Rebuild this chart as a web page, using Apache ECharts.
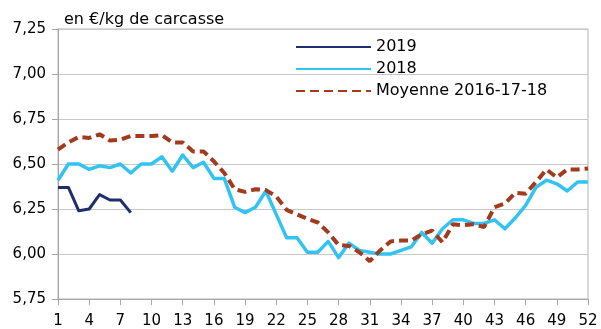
<!DOCTYPE html>
<html>
<head>
<meta charset="utf-8">
<script src="https://cdn.jsdelivr.net/npm/echarts@6/dist/echarts.min.js"></script>
<style>
  html, body { margin: 0; padding: 0; background: #fff; }
  #chart { width: 601px; height: 329px; }
</style>
</head>
<body>
<div id="chart"></div>
<script>
// Semaines de l'année
const weeks = ['1','2','3','4','5','6','7','8','9','10','11','12','13','14','15','16','17','18','19','20',
  '21','22','23','24','25','26','27','28','29','30','31','32','33','34','35','36','37','38','39','40',
  '41','42','43','44','45','46','47','48','49','50','51','52'];

// Cotations hebdomadaires, en €/kg de carcasse
const prix2019 = [6.37, 6.37, 6.24, 6.25, 6.33, 6.30, 6.30, 6.23];

const prix2018 = [6.41, 6.50, 6.50, 6.47, 6.49, 6.48, 6.50, 6.45, 6.50, 6.50,
  6.54, 6.46, 6.55, 6.48, 6.51, 6.42, 6.42, 6.26, 6.23, 6.26,
  6.35, 6.22, 6.09, 6.09, 6.01, 6.01, 6.07, 5.98, 6.06, 6.02,
  6.01, 6.00, 6.00, 6.02, 6.04, 6.12, 6.06, 6.14, 6.19, 6.19,
  6.17, 6.17, 6.19, 6.14, 6.20, 6.27, 6.37, 6.41, 6.39, 6.35,
  6.40, 6.40];

const moyenne = [6.58, 6.62, 6.65, 6.645, 6.665, 6.63, 6.635, 6.655, 6.655, 6.655,
  6.66, 6.62, 6.62, 6.57, 6.57, 6.515, 6.45, 6.36, 6.345, 6.36,
  6.355, 6.32, 6.245, 6.22, 6.195, 6.175, 6.12, 6.05, 6.045, 6.01,
  5.96, 6.02, 6.07, 6.075, 6.075, 6.11, 6.13, 6.065, 6.165, 6.16,
  6.165, 6.15, 6.26, 6.28, 6.34, 6.335, 6.40, 6.47, 6.425, 6.47,
  6.47, 6.475];

const FONT = 'DejaVu Sans';

const chart = echarts.init(document.getElementById('chart'), null, { renderer: 'canvas' });

chart.setOption({
  animation: false,
  backgroundColor: '#ffffff',
  title: {
    text: 'en €/kg de carcasse',
    left: 59,
    top: 7,
    textStyle: { fontFamily: FONT, fontSize: 16, fontWeight: 'normal', color: '#000' }
  },
  legend: {
    orient: 'vertical',
    left: 290,
    top: 34,
    itemWidth: 75,
    itemHeight: 14,
    itemGap: 6,
    itemStyle: { opacity: 0 },
    textStyle: { fontFamily: FONT, fontSize: 16, color: '#000' },
    data: ['2019', '2018', 'Moyenne 2016-17-18']
  },
  grid: {
    left: 58,
    right: 13,
    top: 29,
    bottom: 29,
    show: true,
    borderColor: '#b4b4b4',
    borderWidth: 1
  },
  xAxis: {
    type: 'category',
    data: weeks,
    boundaryGap: false,
    axisLine: { lineStyle: { color: '#a6a6a6', width: 1 } },
    axisTick: { interval: 2, length: 6, lineStyle: { color: '#a6a6a6' } },
    axisLabel: { interval: 2, margin: 15, fontFamily: FONT, fontSize: 15, color: '#000' },
    splitLine: { show: false }
  },
  yAxis: {
    type: 'value',
    min: 5.75,
    max: 7.25,
    interval: 0.25,
    axisLine: { show: true, lineStyle: { color: '#a6a6a6', width: 1 } },
    axisTick: { show: true, length: 6, lineStyle: { color: '#a6a6a6' } },
    axisLabel: {
      margin: 12,
      fontFamily: FONT, fontSize: 15, color: '#000',
      formatter: v => v.toFixed(2).replace('.', ',')
    },
    splitLine: { lineStyle: { color: '#c8c8c8', width: 1 } }
  },
  series: [
    {
      name: '2019',
      type: 'line',
      data: prix2019,
      symbol: 'none',
      color: '#1f2f6e',
      lineStyle: { color: '#1f2f6e', width: 3, join: 'round' }
    },
    {
      name: '2018',
      type: 'line',
      data: prix2018,
      symbol: 'none',
      color: '#33c3f2',
      lineStyle: { color: '#33c3f2', width: 3.5, join: 'round' }
    },
    {
      name: 'Moyenne 2016-17-18',
      type: 'line',
      data: moyenne,
      symbol: 'none',
      color: '#a23a1e',
      lineStyle: { color: '#a23a1e', width: 4, type: [9, 5] }
    }
  ]
});
</script>
</body>
</html>
